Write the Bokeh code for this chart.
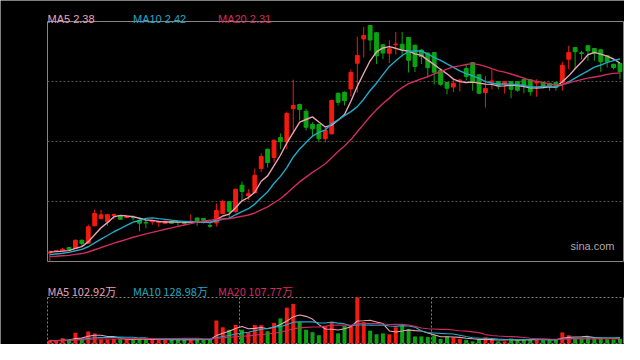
import numpy as np
from bokeh.plotting import figure
from bokeh.models import Range1d, Label, ColumnDataSource
from bokeh.embed import file_html
from bokeh.resources import INLINE

# ---------------- data ----------------
opens = [0.866, 0.880, 0.884, 0.910, 0.902, 0.968, 0.944, 1.084, 1.142, 1.116,
         1.166, 1.166, 1.150, 1.152, 1.128, 1.111, 1.116, 1.110, 1.104, 1.120,
         1.118, 1.107, 1.116, 1.146, 1.142, 1.086, 1.106, 1.182, 1.276, 1.196,
         1.408, 1.324, 1.350, 1.542, 1.696, 1.630, 1.790, 1.756, 2.020, 2.054,
         2.000, 1.894, 1.894, 1.780, 1.820, 2.144, 2.152, 2.178, 2.384, 2.578,
         2.686, 2.628, 2.532, 2.464, 2.532, 2.536, 2.590, 2.528, 2.490, 2.466,
         2.470, 2.326, 2.230, 2.194, 2.242, 2.342, 2.390, 2.292, 2.150, 2.234,
         2.238, 2.216, 2.238, 2.238, 2.254, 2.252, 2.226, 2.230, 2.224, 2.230,
         2.230, 2.416, 2.510, 2.468, 2.524, 2.502, 2.492, 2.444, 2.376, 2.382]

highs = [0.886, 0.890, 0.906, 0.914, 0.974, 0.974, 1.094, 1.212, 1.212, 1.178,
         1.182, 1.170, 1.168, 1.168, 1.134, 1.128, 1.128, 1.126, 1.126, 1.126,
         1.126, 1.116, 1.176, 1.150, 1.146, 1.104, 1.262, 1.292, 1.278, 1.382,
         1.438, 1.376, 1.542, 1.662, 1.702, 1.774, 1.822, 1.998, 2.252, 2.062,
         2.020, 1.912, 1.902, 1.872, 2.094, 2.150, 2.158, 2.334, 2.596, 2.676,
         2.690, 2.634, 2.538, 2.568, 2.634, 2.634, 2.594, 2.534, 2.494, 2.470,
         2.474, 2.342, 2.234, 2.256, 2.260, 2.376, 2.394, 2.294, 2.284, 2.336,
         2.242, 2.242, 2.242, 2.242, 2.258, 2.254, 2.256, 2.234, 2.228, 2.234,
         2.396, 2.524, 2.514, 2.484, 2.526, 2.506, 2.494, 2.446, 2.380, 2.386]

lows = [0.798, 0.874, 0.878, 0.886, 0.898, 0.918, 0.938, 1.078, 1.134, 1.084,
        1.134, 1.130, 1.142, 1.128, 1.040, 1.064, 1.092, 1.076, 1.098, 1.098,
        1.084, 1.092, 1.110, 1.084, 1.102, 1.068, 1.078, 1.178, 1.150, 1.190,
        1.286, 1.292, 1.342, 1.516, 1.550, 1.590, 1.696, 1.696, 1.820, 1.926,
        1.846, 1.792, 1.752, 1.752, 1.814, 2.046, 2.046, 2.118, 2.150, 2.430,
        2.486, 2.378, 2.418, 2.386, 2.454, 2.438, 2.310, 2.314, 2.378, 2.270,
        2.214, 2.204, 2.134, 2.154, 2.158, 2.248, 2.164, 2.138, 2.030, 2.176,
        2.176, 2.142, 2.104, 2.156, 2.144, 2.124, 2.116, 2.182, 2.164, 2.164,
        2.164, 2.336, 2.342, 2.416, 2.404, 2.404, 2.316, 2.350, 2.336, 2.256]

closes = [0.874, 0.886, 0.896, 0.892, 0.968, 0.942, 1.076, 1.182, 1.172, 1.172,
          1.174, 1.136, 1.156, 1.148, 1.104, 1.106, 1.120, 1.118, 1.120, 1.104,
          1.113, 1.102, 1.120, 1.122, 1.124, 1.081, 1.206, 1.278, 1.198, 1.376,
          1.358, 1.340, 1.488, 1.638, 1.590, 1.768, 1.756, 1.982, 2.046, 2.014,
          1.872, 1.860, 1.780, 1.846, 2.086, 2.072, 2.086, 2.310, 2.446, 2.606,
          2.570, 2.444, 2.466, 2.500, 2.538, 2.492, 2.408, 2.358, 2.438, 2.348,
          2.312, 2.216, 2.184, 2.224, 2.250, 2.278, 2.230, 2.144, 2.182, 2.242,
          2.208, 2.238, 2.176, 2.168, 2.198, 2.156, 2.234, 2.190, 2.198, 2.190,
          2.368, 2.470, 2.476, 2.462, 2.484, 2.464, 2.396, 2.396, 2.350, 2.318]

# closes before the first visible day (only feed the moving averages)
prior_closes = [0.822, 0.814, 0.830, 0.822, 0.806, 0.830, 0.822, 0.814, 0.830, 0.822,
                0.830, 0.838, 0.822, 0.838, 0.830, 0.870, 0.878, 0.870, 0.878]

# volume, in 万 shares
volumes = [66, 50, 114, 86, 234, 100, 260, 220, 86, 86,
           100, 100, 80, 80, 100, 100, 80, 80, 86, 80,
           80, 80, 100, 86, 86, 86, 500, 354, 300, 400,
           300, 246, 400, 400, 266, 446, 546, 780, 860, 466,
           300, 246, 180, 380, 446, 220, 380, 400, 1000, 466,
           280, 200, 220, 200, 354, 380, 314, 154, 154, 140,
           180, 100, 154, 134, 100, 80, 46, 80, 134, 80,
           46, 46, 110, 80, 100, 80, 80, 90, 80, 80,
           240, 180, 120, 100, 130, 110, 120, 95, 90, 100]
prior_volumes = [70, 65, 80, 60, 75, 70, 60, 85, 70, 65,
                 60, 75, 70, 65, 60, 70, 55, 65, 60]

ma_windows = [5, 10, 20]
price_ma_labels = ["MA5 2.38", "MA10 2.42", "MA20 2.31"]
volume_ma_labels = ["MA5 102.92万", "MA10 128.98万", "MA20 107.77万"]
brand = "sina.com"

# ---------------- styling ----------------
UP, DOWN = "#f41a0e", "#0ba411"
MA_COLORS = ["#eba3b8", "#22a8c8", "#d02b60"]
BG = "#000000"
BORDER = "#858585"
FONT = "Liberation Sans"
CJK = "Noto Sans CJK SC"

n = len(closes)
xs = list(range(n))
colors = [UP if c >= o else DOWN for o, c in zip(opens, closes)]


def moving_average(values, prior, window):
    allv = np.asarray(list(prior) + list(values), dtype=float)
    off = len(prior)
    return [float(allv[off + i - window + 1: off + i + 1].mean()) for i in range(len(values))]


price_ma = [moving_average(closes, prior_closes, w) for w in ma_windows]
vol_ma = [moving_average(volumes, prior_volumes, w) for w in ma_windows]

# ---------------- layout (page pixels; figure sits at page 8,8) ----------------
W, H = 624, 344
PX_L, PX_R = 55, 631           # panel left / right
P1_T, P1_B = 29, 269           # price panel top / bottom
P2_T, P2_B = 305, 351          # volume panel top / bottom

# panel value extents
x_lo, x_hi = -0.36, n - 0.45
p_lo, p_hi = 0.798, 2.718
v_lo, v_hi = 0, max(volumes)

# ranges extended so the panels land on the pixel boxes above
xpp = (x_hi - x_lo) / (PX_R - PX_L)
ppp = (p_hi - p_lo) / (P1_B - P1_T)
vpp = (v_hi - v_lo) / (P2_B - P2_T)
x_range = Range1d(x_lo - (PX_L - 8) * xpp, x_hi + (8 + W - PX_R) * xpp)
y_range = Range1d(p_lo - (8 + H - P1_B) * ppp, p_hi + (P1_T - 8) * ppp)
vol_range = Range1d(v_lo - (8 + H - P2_B) * vpp, v_hi + (P2_T - 8) * vpp)


def x_at(px):
    return x_lo + (px - PX_L) * xpp


def p_at(py):
    return p_lo + (P1_B - py) * ppp


def v_at(py):
    return v_lo + (P2_B - py) * vpp


src = ColumnDataSource(dict(
    x=xs, high=highs, low=lows,
    top=[max(o, c) for o, c in zip(opens, closes)],
    bottom=[min(o, c) for o, c in zip(opens, closes)],
    color=colors, vol=volumes,
))

p = figure(width=W, height=H, output_backend="svg", toolbar_location=None,
           x_axis_location=None, y_axis_location=None, title=None,
           x_range=x_range, y_range=y_range,
           min_border=0, background_fill_color=BG, border_fill_color=BG,
           outline_line_color=None)
p.grid.visible = False
p.extra_y_ranges = {"vol": vol_range}

# ---- price panel frame & grid
p.quad(left=x_lo, right=x_hi, bottom=p_lo, top=p_hi, fill_color=None,
       line_color=BORDER, line_width=1)
grid_levels = [p_lo + (p_hi - p_lo) * k / 4 for k in (1, 2, 3)]
p.segment(x0=[x_lo] * 3, x1=[x_hi] * 3, y0=grid_levels, y1=grid_levels,
          line_color="#555555", line_dash="2 2", line_width=1)

# ---- candles
p.segment(x0="x", y0="low", x1="x", y1="high", source=src, line_color="color", line_width=1)
p.vbar(x="x", width=0.6, top="top", bottom="bottom", source=src,
       fill_color="color", line_color="color", line_width=1)

for ma, col in zip(price_ma, MA_COLORS):
    p.line(xs, ma, line_color=col, line_width=1.4)

for txt, px, col in zip(price_ma_labels, (55, 140.5, 225.5), MA_COLORS):
    p.add_layout(Label(x=x_at(px), y=p_at(26.5), text=txt, text_color=col,
                       text_font=FONT, text_font_size="11px", text_baseline="alphabetic"))

p.add_layout(Label(x=x_at(622), y=p_at(253), text=brand, text_color="#a8a8a8",
                   text_font=FONT, text_font_size="11px", text_baseline="alphabetic",
                   text_align="right"))

# ---- volume panel frame
thirds = [x_lo + (x_hi - x_lo) * k / 3 for k in (1, 2)]
p.segment(x0=[x_lo, x_lo, x_lo] + thirds, x1=[x_hi, x_hi, x_lo] + thirds,
          y0=[v_hi, v_lo, v_lo, v_lo, v_lo], y1=[v_hi, v_lo, v_hi, v_hi, v_hi],
          y_range_name="vol", line_color="#808080", line_dash="2 2", line_width=1)
p.segment(x0=[x_hi], x1=[x_hi], y0=[v_lo], y1=[v_hi], y_range_name="vol",
          line_color=BORDER, line_width=1)

p.vbar(x="x", width=0.62, top="vol", bottom=0, source=src, y_range_name="vol",
       fill_color="color", line_color=None)

for ma, col in zip(vol_ma, MA_COLORS):
    p.line(xs, ma, line_color=col, line_width=1.1, y_range_name="vol")

for txt, px, col in zip(volume_ma_labels, (55, 140.5, 225.5), MA_COLORS):
    p.add_layout(Label(x=x_at(px), y=v_at(298.5), y_range_name="vol", text=txt, text_color=col,
                       text_font=CJK, text_font_size="11px", text_baseline="alphabetic"))

open("out.html", "w").write(file_html(p, INLINE))
